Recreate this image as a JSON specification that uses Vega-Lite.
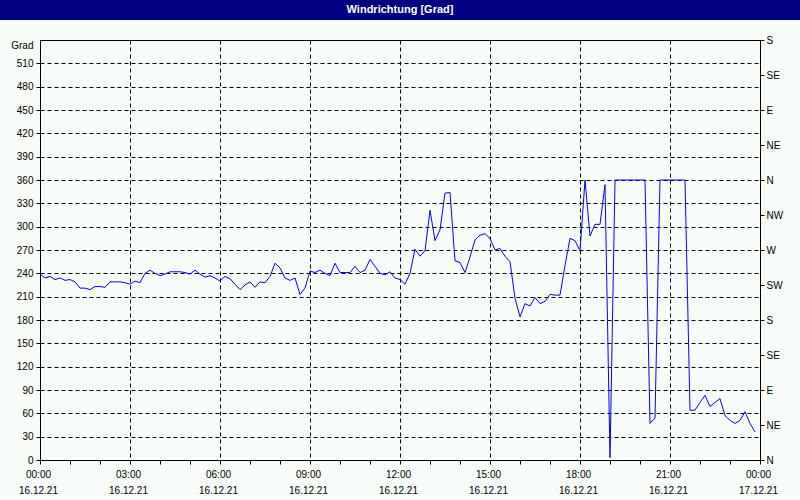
{
  "$schema": "https://vega.github.io/schema/vega-lite/v6.json",
  "background": "#f8fcf8",
  "padding": 0,
  "bounds": "flush",
  "center": true,
  "spacing": 20,
  "vconcat": [
    {
      "width": 800,
      "height": 20,
      "view": {"fill": "#000080", "stroke": null},
      "data": {"values": [{"title": "Windrichtung [Grad]"}]},
      "mark": {"type": "text", "color": "#ffffff", "font": "Liberation Sans", "fontSize": 11, "fontWeight": "bold", "align": "center", "baseline": "middle"},
      "encoding": {"text": {"field": "title", "type": "nominal"}}
    },
    {
      "width": 720,
      "height": 420,
      "view": {"stroke": "#000000", "strokeWidth": 1},
      "data": {"values": [
        {"t":"2021-12-16T00:00:00Z","v":239},{"t":"2021-12-16T00:10:00Z","v":234},{"t":"2021-12-16T00:20:00Z","v":236},{"t":"2021-12-16T00:30:00Z","v":232},{"t":"2021-12-16T00:40:00Z","v":234},{"t":"2021-12-16T00:50:00Z","v":231},
        {"t":"2021-12-16T01:00:00Z","v":232},{"t":"2021-12-16T01:10:00Z","v":229},{"t":"2021-12-16T01:20:00Z","v":221},{"t":"2021-12-16T01:30:00Z","v":221},{"t":"2021-12-16T01:40:00Z","v":219},{"t":"2021-12-16T01:50:00Z","v":223},
        {"t":"2021-12-16T02:00:00Z","v":223},{"t":"2021-12-16T02:10:00Z","v":222},{"t":"2021-12-16T02:20:00Z","v":229},{"t":"2021-12-16T02:30:00Z","v":229},{"t":"2021-12-16T02:40:00Z","v":229},{"t":"2021-12-16T02:50:00Z","v":228},
        {"t":"2021-12-16T03:00:00Z","v":226},{"t":"2021-12-16T03:10:00Z","v":230},{"t":"2021-12-16T03:20:00Z","v":228},{"t":"2021-12-16T03:30:00Z","v":240},{"t":"2021-12-16T03:40:00Z","v":244},{"t":"2021-12-16T03:50:00Z","v":240},
        {"t":"2021-12-16T04:00:00Z","v":237},{"t":"2021-12-16T04:10:00Z","v":239},{"t":"2021-12-16T04:20:00Z","v":242},{"t":"2021-12-16T04:30:00Z","v":242},{"t":"2021-12-16T04:40:00Z","v":242},{"t":"2021-12-16T04:50:00Z","v":241},
        {"t":"2021-12-16T05:00:00Z","v":239},{"t":"2021-12-16T05:10:00Z","v":244},{"t":"2021-12-16T05:20:00Z","v":239},{"t":"2021-12-16T05:30:00Z","v":235},{"t":"2021-12-16T05:40:00Z","v":237},{"t":"2021-12-16T05:50:00Z","v":234},
        {"t":"2021-12-16T06:00:00Z","v":230},{"t":"2021-12-16T06:10:00Z","v":236},{"t":"2021-12-16T06:20:00Z","v":233},{"t":"2021-12-16T06:30:00Z","v":226},{"t":"2021-12-16T06:40:00Z","v":219},{"t":"2021-12-16T06:50:00Z","v":225},
        {"t":"2021-12-16T07:00:00Z","v":229},{"t":"2021-12-16T07:10:00Z","v":222},{"t":"2021-12-16T07:20:00Z","v":229},{"t":"2021-12-16T07:30:00Z","v":228},{"t":"2021-12-16T07:40:00Z","v":236},{"t":"2021-12-16T07:50:00Z","v":253},
        {"t":"2021-12-16T08:00:00Z","v":247},{"t":"2021-12-16T08:10:00Z","v":234},{"t":"2021-12-16T08:20:00Z","v":231},{"t":"2021-12-16T08:30:00Z","v":234},{"t":"2021-12-16T08:40:00Z","v":213},{"t":"2021-12-16T08:50:00Z","v":221},
        {"t":"2021-12-16T09:00:00Z","v":243},{"t":"2021-12-16T09:10:00Z","v":241},{"t":"2021-12-16T09:20:00Z","v":244},{"t":"2021-12-16T09:30:00Z","v":240},{"t":"2021-12-16T09:40:00Z","v":237},{"t":"2021-12-16T09:50:00Z","v":253},
        {"t":"2021-12-16T10:00:00Z","v":241},{"t":"2021-12-16T10:10:00Z","v":241},{"t":"2021-12-16T10:20:00Z","v":241},{"t":"2021-12-16T10:30:00Z","v":249},{"t":"2021-12-16T10:40:00Z","v":241},{"t":"2021-12-16T10:50:00Z","v":244},
        {"t":"2021-12-16T11:00:00Z","v":258},{"t":"2021-12-16T11:10:00Z","v":249},{"t":"2021-12-16T11:20:00Z","v":240},{"t":"2021-12-16T11:30:00Z","v":238},{"t":"2021-12-16T11:40:00Z","v":242},{"t":"2021-12-16T11:50:00Z","v":234},
        {"t":"2021-12-16T12:00:00Z","v":232},{"t":"2021-12-16T12:10:00Z","v":226},{"t":"2021-12-16T12:20:00Z","v":240},{"t":"2021-12-16T12:30:00Z","v":271},{"t":"2021-12-16T12:40:00Z","v":262},{"t":"2021-12-16T12:50:00Z","v":269},
        {"t":"2021-12-16T13:00:00Z","v":321},{"t":"2021-12-16T13:10:00Z","v":282},{"t":"2021-12-16T13:20:00Z","v":296},{"t":"2021-12-16T13:30:00Z","v":343},{"t":"2021-12-16T13:40:00Z","v":344},{"t":"2021-12-16T13:50:00Z","v":256},
        {"t":"2021-12-16T14:00:00Z","v":254},{"t":"2021-12-16T14:10:00Z","v":241},{"t":"2021-12-16T14:20:00Z","v":261},{"t":"2021-12-16T14:30:00Z","v":283},{"t":"2021-12-16T14:40:00Z","v":289},{"t":"2021-12-16T14:50:00Z","v":291},
        {"t":"2021-12-16T15:00:00Z","v":285},{"t":"2021-12-16T15:10:00Z","v":270},{"t":"2021-12-16T15:20:00Z","v":272},{"t":"2021-12-16T15:30:00Z","v":262},{"t":"2021-12-16T15:40:00Z","v":255},{"t":"2021-12-16T15:50:00Z","v":208},
        {"t":"2021-12-16T16:00:00Z","v":184},{"t":"2021-12-16T16:10:00Z","v":201},{"t":"2021-12-16T16:20:00Z","v":198},{"t":"2021-12-16T16:30:00Z","v":209},{"t":"2021-12-16T16:40:00Z","v":201},{"t":"2021-12-16T16:50:00Z","v":204},
        {"t":"2021-12-16T17:00:00Z","v":213},{"t":"2021-12-16T17:10:00Z","v":212},{"t":"2021-12-16T17:20:00Z","v":212},{"t":"2021-12-16T17:30:00Z","v":250},{"t":"2021-12-16T17:40:00Z","v":285},{"t":"2021-12-16T17:50:00Z","v":282},
        {"t":"2021-12-16T18:00:00Z","v":269},{"t":"2021-12-16T18:10:00Z","v":360},{"t":"2021-12-16T18:20:00Z","v":288},{"t":"2021-12-16T18:30:00Z","v":303},{"t":"2021-12-16T18:40:00Z","v":303},{"t":"2021-12-16T18:50:00Z","v":354},
        {"t":"2021-12-16T19:00:00Z","v":3},{"t":"2021-12-16T19:10:00Z","v":360},{"t":"2021-12-16T19:20:00Z","v":360},{"t":"2021-12-16T19:30:00Z","v":360},{"t":"2021-12-16T19:40:00Z","v":360},{"t":"2021-12-16T19:50:00Z","v":360},
        {"t":"2021-12-16T20:00:00Z","v":360},{"t":"2021-12-16T20:10:00Z","v":360},{"t":"2021-12-16T20:20:00Z","v":47},{"t":"2021-12-16T20:30:00Z","v":54},{"t":"2021-12-16T20:40:00Z","v":360},{"t":"2021-12-16T20:50:00Z","v":360},
        {"t":"2021-12-16T21:00:00Z","v":360},{"t":"2021-12-16T21:10:00Z","v":360},{"t":"2021-12-16T21:20:00Z","v":360},{"t":"2021-12-16T21:30:00Z","v":360},{"t":"2021-12-16T21:40:00Z","v":64},{"t":"2021-12-16T21:50:00Z","v":64},
        {"t":"2021-12-16T22:00:00Z","v":74},{"t":"2021-12-16T22:10:00Z","v":83},{"t":"2021-12-16T22:20:00Z","v":69},{"t":"2021-12-16T22:30:00Z","v":74},{"t":"2021-12-16T22:40:00Z","v":79},{"t":"2021-12-16T22:50:00Z","v":57},
        {"t":"2021-12-16T23:00:00Z","v":51},{"t":"2021-12-16T23:10:00Z","v":47},{"t":"2021-12-16T23:20:00Z","v":51},{"t":"2021-12-16T23:30:00Z","v":62},{"t":"2021-12-16T23:40:00Z","v":47},{"t":"2021-12-16T23:50:00Z","v":36}
      ]},
      "encoding": {
        "x": {
          "field": "t", "type": "temporal",
          "scale": {"type": "utc", "nice": false, "domain": [1639612800000, 1639699200000]},
          "axis": {
            "title": null,
            "values": [1639612800000, 1639616400000, 1639620000000, 1639623600000, 1639627200000, 1639630800000, 1639634400000, 1639638000000, 1639641600000, 1639645200000, 1639648800000, 1639652400000, 1639656000000, 1639659600000, 1639663200000, 1639666800000, 1639670400000, 1639674000000, 1639677600000, 1639681200000, 1639684800000, 1639688400000, 1639692000000, 1639695600000, 1639699200000],
            "labelExpr": "utchours(datum.value) % 3 == 0 ? [utcFormat(datum.value, '%H:%M'), utcFormat(datum.value, '%d.%m.%y')] : ''",
            "labelLineHeight": 16,
            "labelBaseline": "top",
            "labelPadding": 5,
            "labelOffset": -2,
            "labelFont": "Liberation Sans",
            "labelFontSize": 10,
            "labelColor": "#000000",
            "labelOverlap": false,
            "labelFlush": false,
            "labelBound": false,
            "grid": true,
            "gridColor": "#000000",
            "gridDash": [4, 3],
            "gridWidth": 1,
            "gridOpacity": {"condition": {"test": "utchours(datum.value) % 3 == 0", "value": 1}, "value": 0},
            "tickColor": "#000000",
            "tickSize": 4,
            "domainColor": "#000000"
          }
        }
      },
      "layer": [
        {
          "mark": {"type": "line", "color": "#0000ff", "strokeWidth": 1},
          "encoding": {
            "y": {
              "field": "v", "type": "quantitative",
              "scale": {"domain": [0, 540], "nice": false, "zero": false},
              "axis": {
                "orient": "left",
                "title": null,
                "values": [0, 30, 60, 90, 120, 150, 180, 210, 240, 270, 300, 330, 360, 390, 420, 450, 480, 510, 540],
                "labelExpr": "datum.value == 540 ? 'Grad' : datum.label",
                "labelBaseline": {"condition": {"test": "datum.value == 540", "value": "top"}, "value": "middle"},
                "labelFont": "Liberation Sans",
                "labelFontSize": 10,
                "labelColor": "#000000",
                "labelPadding": 3,
                "labelOverlap": false,
                "labelBound": false,
                "grid": true,
                "gridColor": "#000000",
                "gridDash": [4, 3],
                "gridWidth": 1,
                "tickColor": "#000000",
                "tickSize": 4,
                "tickOpacity": {"condition": {"test": "datum.value == 540", "value": 0}, "value": 1},
                "domainColor": "#000000"
              }
            }
          }
        },
        {
          "mark": {"type": "line", "strokeOpacity": 0},
          "encoding": {
            "y": {
              "field": "v", "type": "quantitative",
              "scale": {"domain": [0, 540], "nice": false, "zero": false},
              "axis": {
                "orient": "right",
                "title": null,
                "values": [0, 45, 90, 135, 180, 225, 270, 315, 360, 405, 450, 495, 540],
                "labelExpr": "datum.value % 360 == 0 ? 'N' : datum.value % 360 == 45 ? 'NE' : datum.value % 360 == 90 ? 'E' : datum.value % 360 == 135 ? 'SE' : datum.value % 360 == 180 ? 'S' : datum.value % 360 == 225 ? 'SW' : datum.value % 360 == 270 ? 'W' : 'NW'",
                "labelFont": "Liberation Sans",
                "labelFontSize": 10,
                "labelColor": "#000000",
                "labelPadding": 2,
                "labelOverlap": false,
                "labelBound": false,
                "grid": false,
                "tickColor": "#000000",
                "tickSize": 4,
                "domainColor": "#000000"
              }
            }
          }
        }
      ],
      "resolve": {"axis": {"y": "independent"}}
    }
  ]
}
